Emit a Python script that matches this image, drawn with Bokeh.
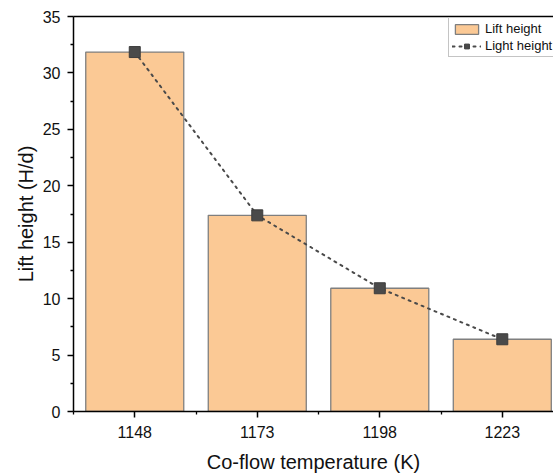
from bokeh.plotting import figure
from bokeh.models import (ColumnDataSource, FixedTicker, LinearAxis,
                          Range1d, Legend, LegendItem)
from bokeh.embed import file_html
from bokeh.resources import INLINE

# ---- data ----
temperatures = ["1148", "1173", "1198", "1223"]
lift_height = [31.85, 17.38, 10.92, 6.40]
light_height = [31.85, 17.38, 10.92, 6.40]
y_ticks = [0, 5, 10, 15, 20, 25, 30, 35]

x_pos = list(range(1, len(temperatures) + 1))
minor_x = [i + 0.5 for i in range(0, len(temperatures) + 1)]

src = ColumnDataSource(dict(x=x_pos, lift=lift_height, light=light_height, label=temperatures))

FONT = "Liberation Sans"

p = figure(width=553, height=475, output_backend="svg", toolbar_location=None,
           x_range=Range1d(0.5, 4.418), y_range=Range1d(0, 35),
           min_border_left=73, min_border_right=0, min_border_top=16, min_border_bottom=64)
p.outline_line_color = None
p.xgrid.visible = False
p.ygrid.visible = False
p.background_fill_color = "white"
p.border_fill_color = "white"

bars = p.vbar(x="x", top="lift", width=0.8, source=src, fill_color="#FBC995",
              line_color="#7f7f7f", line_width=1.3)
line = p.line(x="x", y="light", source=src, line_color="#4a4a4a", line_width=2,
              line_dash="2 5", line_cap="round")
pts = p.scatter(x="x", y="light", source=src, marker="square", size=11,
                fill_color="#4a4a4a", line_color="#3c3c3c")

# x axis
xa = p.xaxis[0]
xa.ticker = FixedTicker(ticks=x_pos, minor_ticks=minor_x)
xa.major_label_overrides = {x: t for x, t in zip(x_pos, temperatures)}
xa.axis_label = "Co-flow temperature (K)"
# y axis
ya = p.yaxis[0]
ya.ticker = FixedTicker(ticks=y_ticks, minor_ticks=[t + 2.5 for t in y_ticks[:-1]])
ya.axis_label = "Lift height (H/d)"

for ax in (xa, ya):
    ax.axis_line_width = 1.5
    ax.axis_line_color = "black"
    ax.major_tick_line_color = "black"
    ax.major_tick_line_width = 1.5
    ax.minor_tick_line_color = "black"
    ax.minor_tick_line_width = 1.3
    ax.major_tick_out = 6
    ax.major_tick_in = 0
    ax.minor_tick_out = 3
    ax.minor_tick_in = 0
    ax.major_label_text_font = FONT
    ax.major_label_text_font_size = "16px"
    ax.major_label_text_color = "#111111"
    ax.axis_label_text_font = FONT
    ax.axis_label_text_font_size = "20px"
    ax.axis_label_text_font_style = "normal"
    ax.axis_label_text_color = "#111111"
xa.major_label_standoff = 8
xa.axis_label_standoff = 10
ya.major_label_standoff = 7
ya.axis_label_standoff = 3

# top frame line
top = LinearAxis(ticker=FixedTicker(ticks=[]), major_label_text_font_size="0px",
                 axis_line_width=1.5, axis_line_color="black",
                 major_tick_line_color=None, minor_tick_line_color=None)
p.add_layout(top, "above")

legend = Legend(items=[LegendItem(label="Lift height", renderers=[bars]),
                       LegendItem(label="Light height", renderers=[line, pts])],
                location=(375, 354))
legend.label_text_font = FONT
legend.label_text_font_size = "13px"
legend.label_text_color = "#111111"
legend.label_standoff = 4
legend.glyph_width = 29
legend.glyph_height = 12
legend.padding = 3
legend.spacing = 2
legend.margin = 0
legend.border_line_color = "#8a8a8a"
legend.border_line_width = 1
legend.background_fill_alpha = 1.0
legend.label_height = 12
p.add_layout(legend, "center")

open("out.html", "w").write(file_html(p, INLINE))
